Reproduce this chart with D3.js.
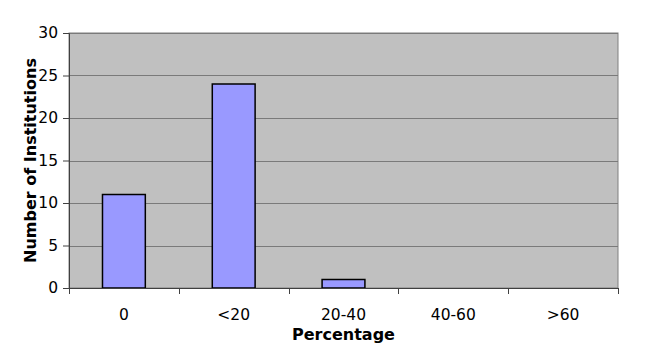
<!DOCTYPE html>
<html>
<head>
<meta charset="utf-8">
<script src="https://cdn.jsdelivr.net/npm/d3@7"></script>
<style>
  body { margin: 0; background: #fff; }
  text { font-family: "DejaVu Sans", Verdana, sans-serif; }
</style>
</head>
<body>
<div id="chart"></div>
<script>
const categories = ["0", "<20", "20-40", "40-60", ">60"];
const institutions = [11, 24, 1, 0, 0];
const yTicks = [0, 5, 10, 15, 20, 25, 30];

const margin = { top: 33, right: 32, bottom: 64, left: 69 };
const width = 650 - margin.left - margin.right;
const height = 352 - margin.top - margin.bottom;

const svg = d3.select("#chart")
  .append("svg")
  .attr("width", 650)
  .attr("height", 352);

const g = svg.append("g")
  .attr("transform", `translate(${margin.left},${margin.top})`);

// Scales
const xScale = d3.scaleBand()
  .domain(categories)
  .range([0, width])
  .padding(0);

const yScale = d3.scaleLinear()
  .domain([0, 30])
  .range([height, 0]);

// Plot background
g.append("rect")
  .attr("width", width)
  .attr("height", height)
  .attr("fill", "#c0c0c0")
  .attr("stroke", "#808080")
  .attr("stroke-width", 1);

// Grid
g.append("g")
  .selectAll("line")
  .data(yTicks.slice(1))
  .enter().append("line")
  .attr("x1", 0)
  .attr("x2", width)
  .attr("y1", d => Math.round(yScale(d)) + 0.5)
  .attr("y2", d => Math.round(yScale(d)) + 0.5)
  .attr("stroke", "#7a7a7a")
  .attr("stroke-width", 1);

// Bars
const bw = xScale.bandwidth();
g.selectAll(".bar")
  .data(institutions.map((v, i) => ({ cat: categories[i], v })))
  .enter().filter(d => d.v > 0)
  .append("rect")
  .attr("class", "bar")
  .attr("x", d => xScale(d.cat) + bw * 0.305)
  .attr("width", bw * 0.39)
  .attr("y", d => yScale(d.v))
  .attr("height", d => height - yScale(d.v))
  .attr("fill", "#9999ff")
  .attr("stroke", "#000")
  .attr("stroke-width", 1.5);

// Y axis
const yAxis = g.append("g")
  .call(d3.axisLeft(yScale).tickValues(yTicks).tickSize(6).tickPadding(5));
yAxis.select(".domain").attr("stroke", "#404040");
yAxis.selectAll(".tick line").attr("stroke", "#404040");
yAxis.selectAll("text")
  .style("font-size", "15.5px")
  .style("fill", "#000");

// X axis: ticks on category boundaries
const xAxis = g.append("g")
  .attr("transform", `translate(0,${height})`);
xAxis.append("line")
  .attr("x1", 0).attr("x2", width)
  .attr("y1", 0.5).attr("y2", 0.5)
  .attr("stroke", "#404040");
const bounds = categories.map(c => xScale(c)).concat([width]);
xAxis.selectAll(".xtick")
  .data(bounds)
  .enter().append("line")
  .attr("x1", d => Math.round(d) + 0.5)
  .attr("x2", d => Math.round(d) + 0.5)
  .attr("y1", 0)
  .attr("y2", 6)
  .attr("stroke", "#404040");
xAxis.selectAll(".xlabel")
  .data(categories)
  .enter().append("text")
  .attr("x", d => xScale(d) + bw / 2)
  .attr("y", 32)
  .attr("text-anchor", "middle")
  .style("font-size", "15.5px")
  .text(d => d);

// Axis titles
svg.append("text")
  .attr("x", margin.left + width / 2)
  .attr("y", 340)
  .attr("text-anchor", "middle")
  .style("font-size", "16px")
  .style("font-weight", "bold")
  .text("Percentage");

svg.append("text")
  .attr("transform", `translate(36,${margin.top + height / 2}) rotate(-90)`)
  .attr("text-anchor", "middle")
  .style("font-size", "16px")
  .style("font-weight", "bold")
  .text("Number of Institutions");
</script>
</body>
</html>
